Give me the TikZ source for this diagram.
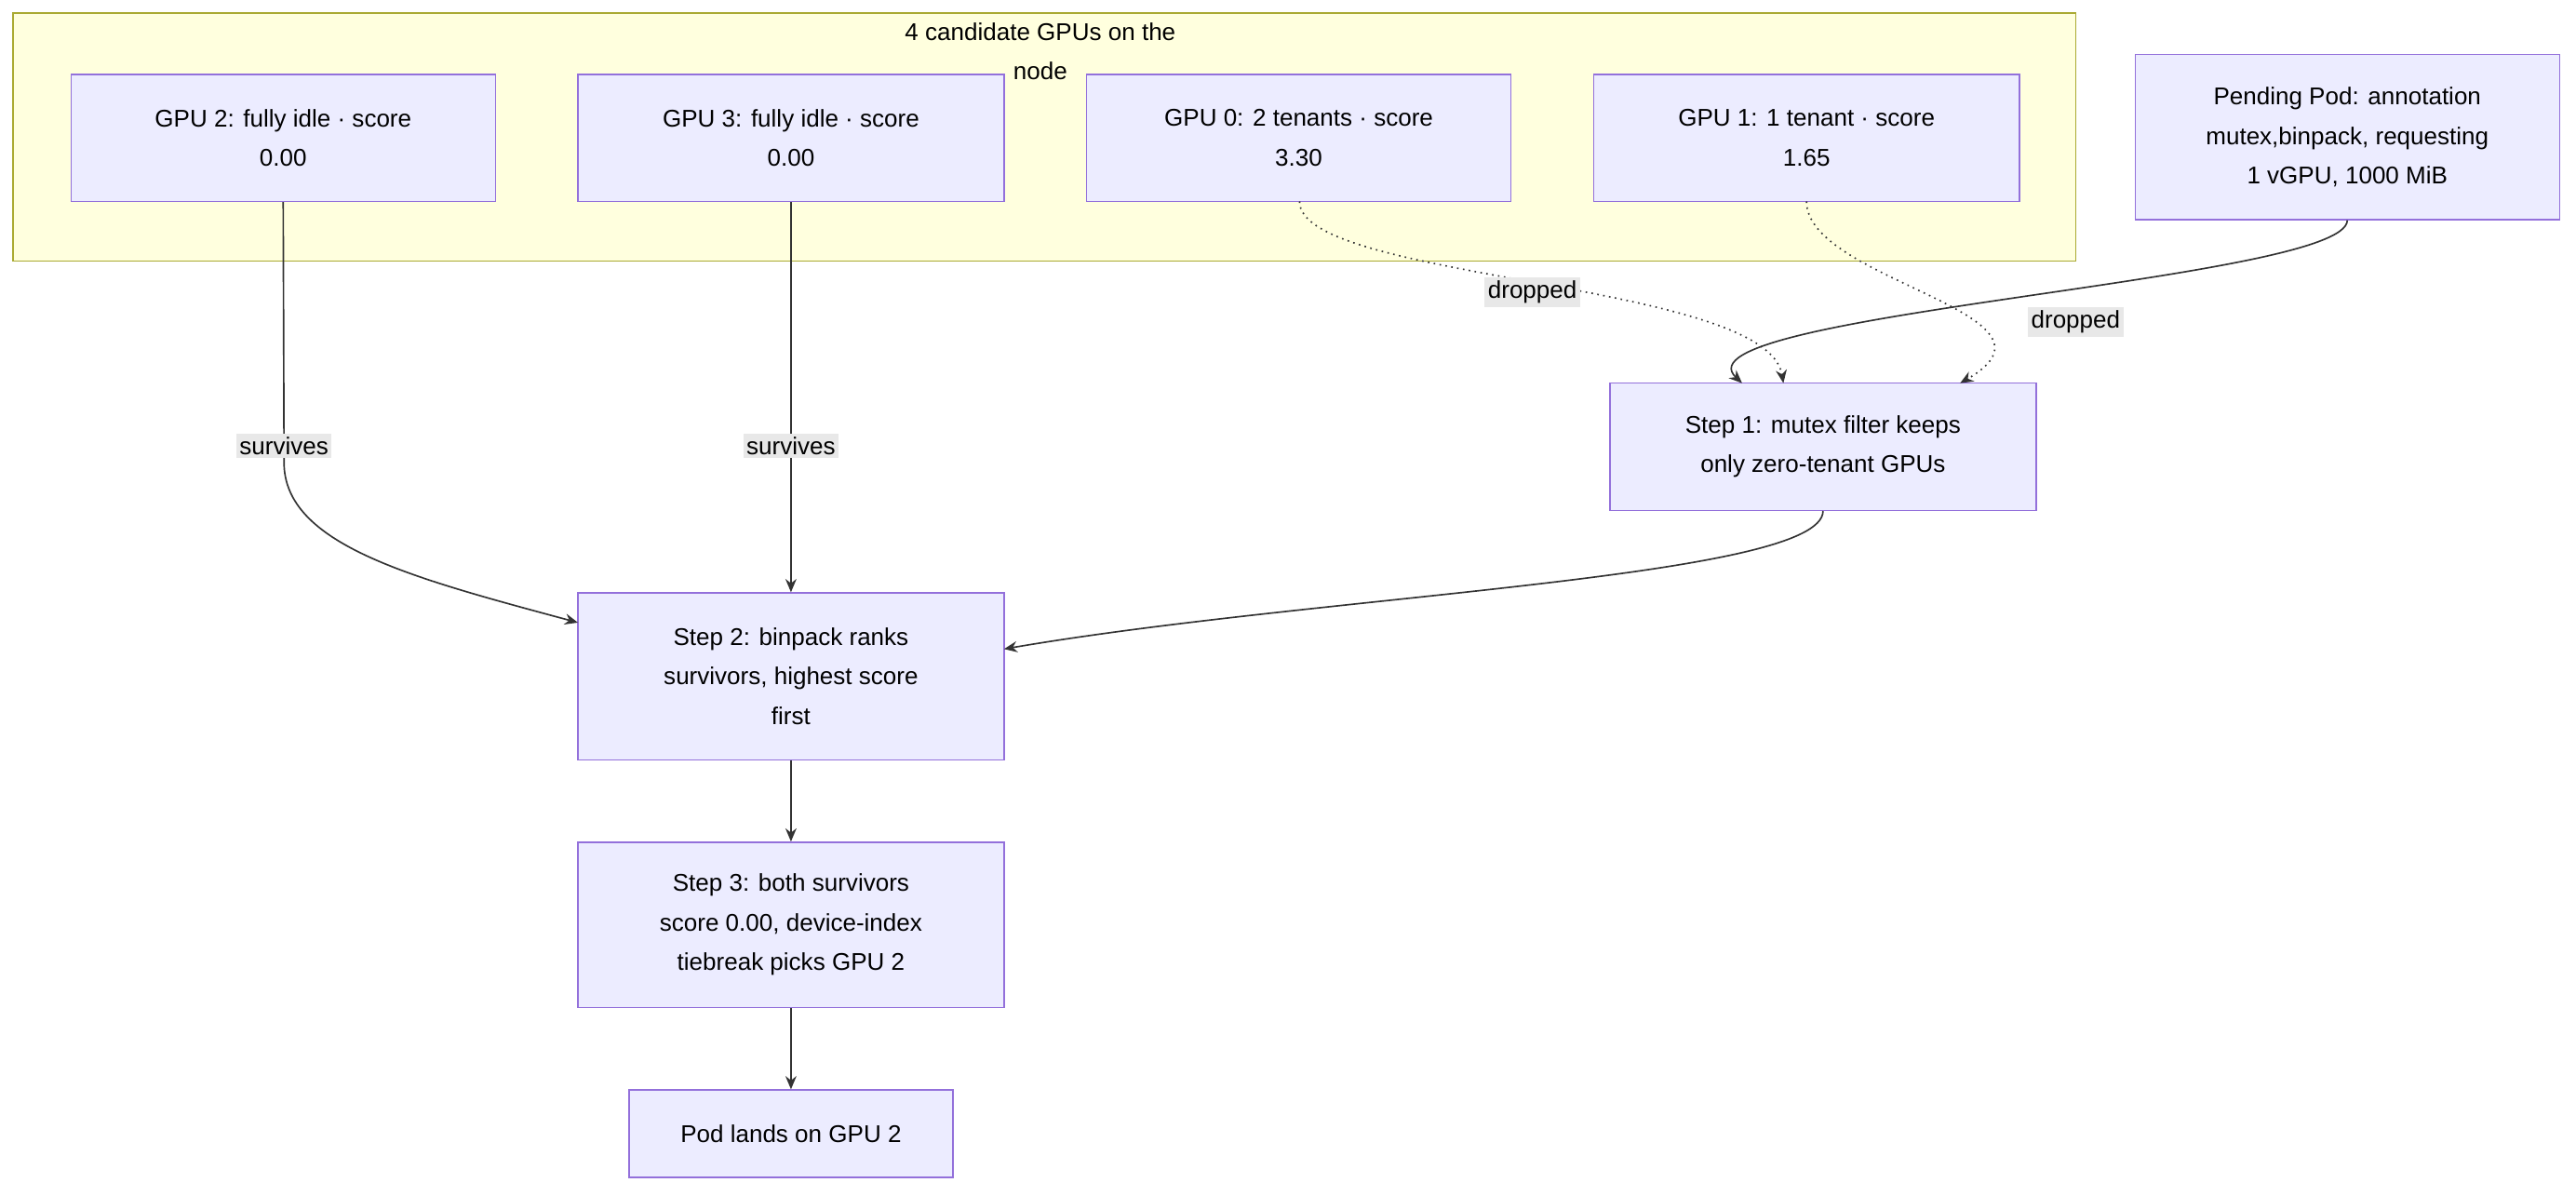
\documentclass[tikz,border=0pt]{standalone}
\usepackage{fontspec}
\setmainfont{Liberation Sans}
\usetikzlibrary{arrows.meta}
\definecolor{nfill}{HTML}{ECECFF}
\definecolor{nline}{HTML}{9370DB}
\definecolor{cfill}{HTML}{FFFFDE}
\definecolor{cline}{HTML}{AAAA33}
\definecolor{lbl}{HTML}{E8E8E8}
\definecolor{ed}{HTML}{333333}
\begin{document}
\begin{tikzpicture}[x=0.75pt,y=-0.75pt,
  box/.style={draw=nline,fill=nfill,line width=0.6pt,align=center,inner sep=0pt,font=\fontsize{11}{18}\selectfont},
  lab/.style={fill=lbl,inner sep=1.5pt,font=\fontsize{11}{13}\selectfont},
  arr/.style={draw=ed,line width=0.7pt,-{Stealth[length=6pt,width=5pt]}},
  dot/.style={arr,dotted}]
\useasboundingbox (0,0) rectangle (1560,724);
\fill[white] (0,0) rectangle (1560,724);
\draw[cline,fill=cfill,line width=0.6pt] (8,8) rectangle (1257,158);
\node[align=center,font=\fontsize{11}{18}\selectfont] (ct) at (630,31) {4 candidate GPUs on the\\node};
\newcommand{\bx}[6]{\node[box,minimum width=#4*0.75pt-#2*0.75pt,minimum height=#5*0.75pt-#3*0.75pt] (#1) at ({(#2+#4)/2},{(#3+#5)/2}) {#6};}
\bx{g2}{43}{45}{300}{122}{GPU 2: fully idle · score\\0.00}
\bx{g3}{350}{45}{608}{122}{GPU 3: fully idle · score\\0.00}
\bx{g0}{658}{45}{915}{122}{GPU 0: 2 tenants · score\\3.30}
\bx{g1}{965}{45}{1223}{122}{GPU 1: 1 tenant · score\\1.65}
\bx{pp}{1293}{33}{1550}{133}{Pending Pod: annotation\\mutex,binpack, requesting\\1 vGPU, 1000 MiB}
\bx{s1}{975}{232}{1233}{309}{Step 1: mutex filter keeps\\only zero-tenant GPUs}
\bx{s2}{350}{359}{608}{460}{Step 2: binpack ranks\\survivors, highest score\\first}
\bx{s3}{350}{510}{608}{610}{Step 3: both survivors\\score 0.00, device-index\\tiebreak picks GPU 2}
\bx{pl}{381}{660}{577}{713}{Pod lands on GPU 2}
\coordinate (a1) at (1055,232);
\coordinate (a0) at (1080,232);
\coordinate (a2) at (1187,232);
\coordinate (s2l) at (350,377);
\coordinate (s2r) at (608,393);
\draw[arr] (g2.south) -- (172,280) .. controls (172,330) and (250,350) .. (s2l);
\node[lab] at (172,270) {survives};
\draw[arr] (g3.south) -- (s2.north);
\node[lab] at (479,270) {survives};
\draw[dot] (787,122) .. controls (787,170) and (1070,170) .. (a0);
\node[lab] at (928,177) {dropped};
\draw[dot] (1094,122) .. controls (1094,170) and (1260,190) .. (a2);
\node[lab] at (1257,195) {dropped};
\draw[arr] (pp.south) .. controls (1421,170) and (1010,190) .. (a1);
\draw[arr] (s1.south) .. controls (1104,350) and (800,360) .. (s2r);
\draw[arr] (s2.south) -- (s3.north);
\draw[arr] (s3.south) -- (pl.north);
\end{tikzpicture}
\end{document}
